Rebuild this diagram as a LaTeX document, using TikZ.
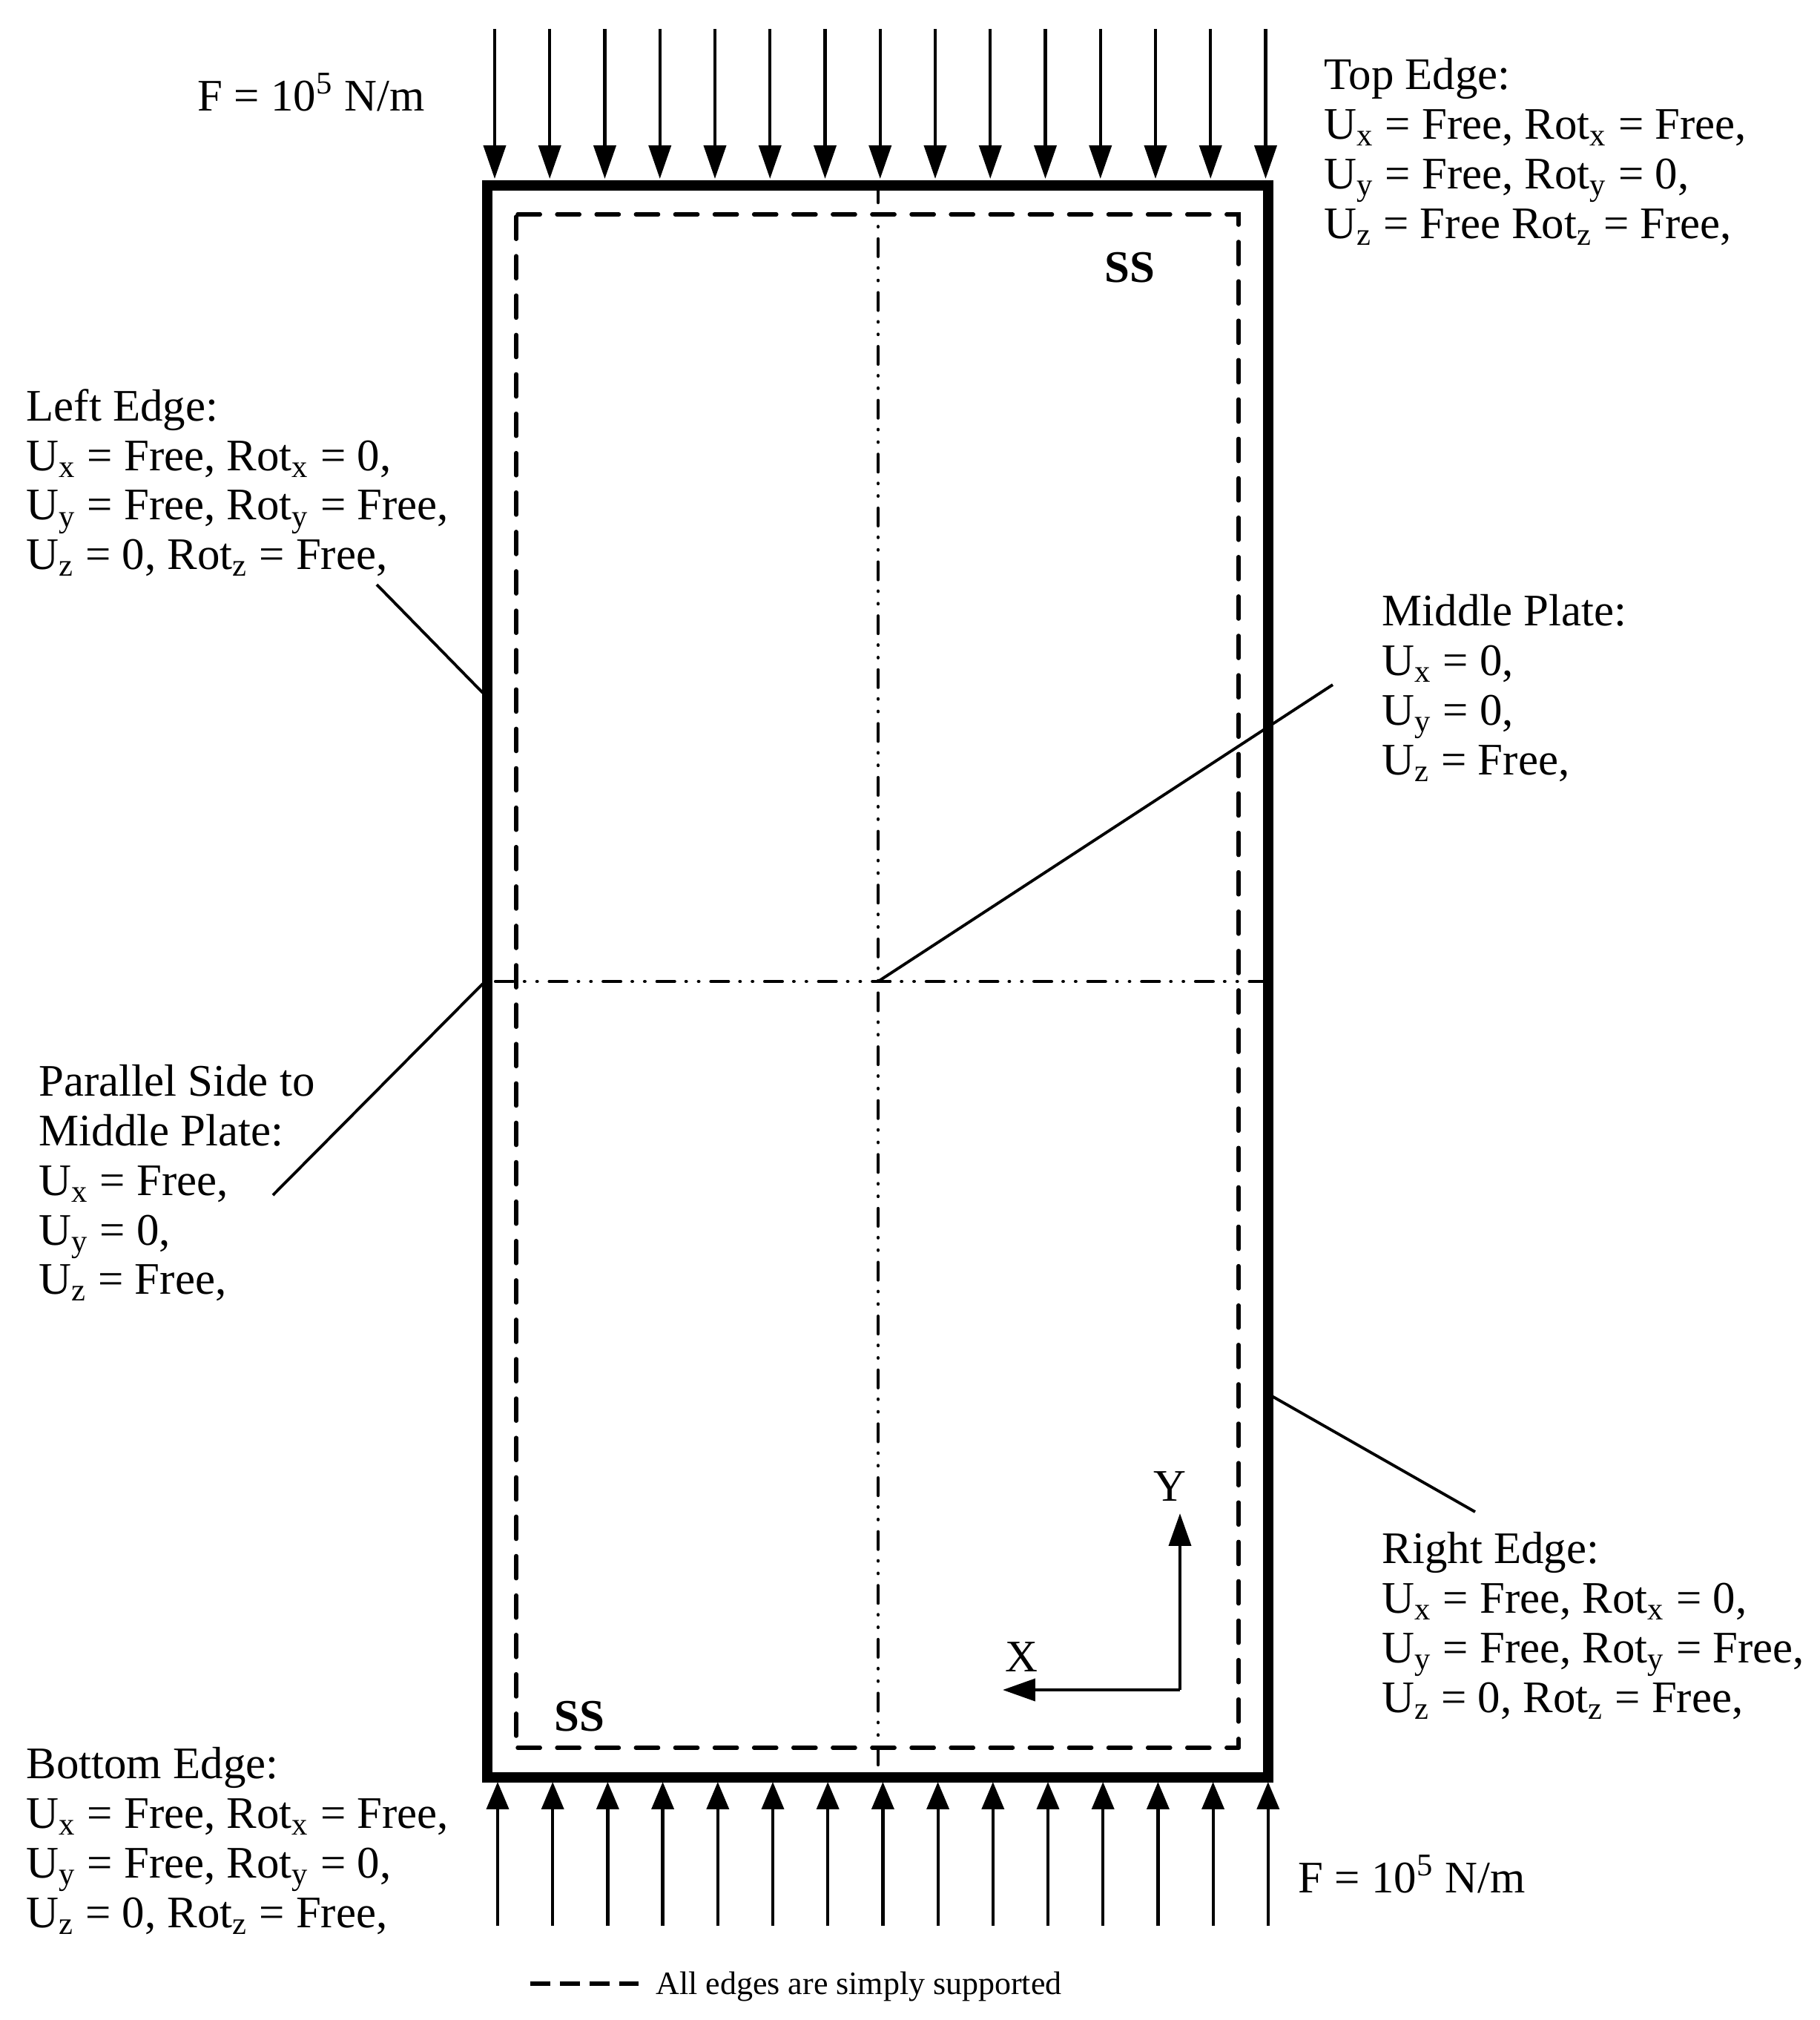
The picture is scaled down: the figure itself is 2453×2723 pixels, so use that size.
\documentclass[tikz,border=0pt]{standalone}
\usepackage{fontspec}
\setmainfont{Liberation Serif}
\usetikzlibrary{arrows.meta}

\newcommand{\low}[1]{\textsubscript{#1}}

\tikzset{
    lbl/.style={anchor=north west, inner sep=0pt, align=left, font=\fontsize{17.3}{18.97}\selectfont},
    lblone/.style={anchor=base west, inner sep=0pt, font=\fontsize{17.3}{18.97}\selectfont},
    plate/.style={line width=3.8pt, line join=miter},
    ssedge/.style={line width=1.55pt, line cap=round, dash pattern=on 8.6pt off 6.5pt},
    midline/.style={line width=1.3pt, line cap=round, dash pattern=on 6.7pt off 4.4pt on 0.1pt off 4.7pt on 0.1pt off 4.65pt},
    leader/.style={line width=1.1pt},
    loaddown/.style={line width=1.2pt, -{Triangle[length=12.8pt, width=8.5pt]}},
    loadup/.style={line width=1.2pt, -{Triangle[length=10.5pt, width=8.5pt]}},
    axis/.style={line width=1.2pt, -{Triangle[length=12.5pt, width=8.5pt]}}
}

\begin{document}
\begin{tikzpicture}[x=0.01cm, y=-0.01cm]
    \useasboundingbox (0,0) rectangle (2453,2723);

    % draw plate
    \coordinate (pl-tl) at (657,250);
    \coordinate (pl-tr) at (1710,250);
    \coordinate (pl-br) at (1710,2396);
    \coordinate (pl-bl) at (657,2396);
    \draw[plate] (pl-tl) -- (pl-tr) -- (pl-br) -- (pl-bl) -- cycle;

    % draw simply supported boundary
    \coordinate (ss-tl) at (698,289);
    \coordinate (ss-tr) at (1670,289);
    \coordinate (ss-br) at (1670,2356);
    \coordinate (ss-bl) at (698,2356);
    \coordinate (ss-ls) at (696,292);
    \coordinate (ss-le) at (696,2340);
    \draw[ssedge] (ss-tl) -- (ss-tr) -- (ss-br);
    \draw[ssedge] (ss-ls) -- (ss-le);
    \draw[ssedge] (ss-bl) -- (ss-br);

    % draw middle lines
    \coordinate (mid-t) at (1184,257);
    \coordinate (mid-b) at (1184,2389);
    \coordinate (mid-l) at (663,1323);
    \coordinate (mid-r) at (1703,1323);
    \coordinate (mid-c) at (1184,1323);
    \draw[midline, dash phase=2.16pt] (mid-t) -- (mid-b);
    \draw[midline, dash phase=19.2pt] (mid-l) -- (mid-r);

    % draw loads
    \foreach \i in {0,...,14} {
      \coordinate (top-a\i) at ({667+74.25*\i},39);
      \coordinate (top-b\i) at ({667+74.25*\i},241);
      \draw[loaddown] (top-a\i) -- (top-b\i);
      \coordinate (bot-a\i) at ({671+74.2*\i},2596);
      \coordinate (bot-b\i) at ({671+74.2*\i},2402);
      \draw[loadup] (bot-a\i) -- (bot-b\i);
    }

    % draw axes
    \coordinate (ax-o) at (1591,2278);
    \coordinate (ax-x) at (1352,2278);
    \coordinate (ax-y) at (1591,2040);
    \draw[axis] (ax-o) -- (ax-x);
    \draw[axis] (ax-o) -- (ax-y);
    \node[lblone] (xlbl) at (1355,2253) {X};
    \node[lblone] (ylbl) at (1555,2023) {Y};

    % draw labels
    \node[lblone] (ftop) at (266,149) {F = 10\textsuperscript{5} N/m};
    \node[lblone] (fbot) at (1750,2551) {F = 10\textsuperscript{5} N/m};
    \node[lblone] (ss1) at (1489,380) {\textbf{SS}};
    \node[lblone] (ss2) at (747,2333) {\textbf{SS}};

    \node[lbl] (topedge) at (1785,78) {Top Edge:\\
      U\low{x} = Free, Rot\low{x} = Free,\\
      U\low{y} = Free, Rot\low{y} = 0,\\
      U\low{z} = Free Rot\low{z} = Free,};
    \node[lbl] (leftedge) at (35,524) {Left Edge:\\
      U\low{x} = Free, Rot\low{x} = 0,\\
      U\low{y} = Free, Rot\low{y} = Free,\\
      U\low{z} = 0, Rot\low{z} = Free,};
    \node[lbl] (midplate) at (1863,801) {Middle Plate:\\
      U\low{x} = 0,\\
      U\low{y} = 0,\\
      U\low{z} = Free,};
    \node[lbl] (parside) at (52,1435) {Parallel Side to\\
      Middle Plate:\\
      U\low{x} = Free,\\
      U\low{y} = 0,\\
      U\low{z} = Free,};
    \node[lbl] (rightedge) at (1863,2065) {Right Edge:\\
      U\low{x} = Free, Rot\low{x} = 0,\\
      U\low{y} = Free, Rot\low{y} = Free,\\
      U\low{z} = 0, Rot\low{z} = Free,};
    \node[lbl] (botedge) at (35,2355) {Bottom Edge:\\
      U\low{x} = Free, Rot\low{x} = Free,\\
      U\low{y} = Free, Rot\low{y} = 0,\\
      U\low{z} = 0, Rot\low{z} = Free,};

    % draw leaders
    \coordinate (ld-l1) at (508,788);
    \coordinate (ld-l2) at (651,934);
    \coordinate (ld-p1) at (368,1611);
    \coordinate (ld-p2) at (651,1326);
    \coordinate (ld-m1) at (1797,923);
    \coordinate (ld-r1) at (1989,2038);
    \coordinate (ld-r2) at (1715,1882);
    \draw[leader] (ld-l1) -- (ld-l2);
    \draw[leader] (ld-p1) -- (ld-p2);
    \draw[leader] (ld-m1) -- (mid-c);
    \draw[leader] (ld-r1) -- (ld-r2);

    % draw legend
    \coordinate (leg-a) at (715,2674);
    \coordinate (leg-b) at (861,2674);
    \draw[line width=1.6pt, dash pattern=on 7.7pt off 3.7pt] (leg-a) -- (leg-b);
    \node[anchor=base west, inner sep=0pt, font=\fontsize{12.5}{15}\selectfont] (legtxt) at (884,2688) {All edges are simply supported};
\end{tikzpicture}
\end{document}
